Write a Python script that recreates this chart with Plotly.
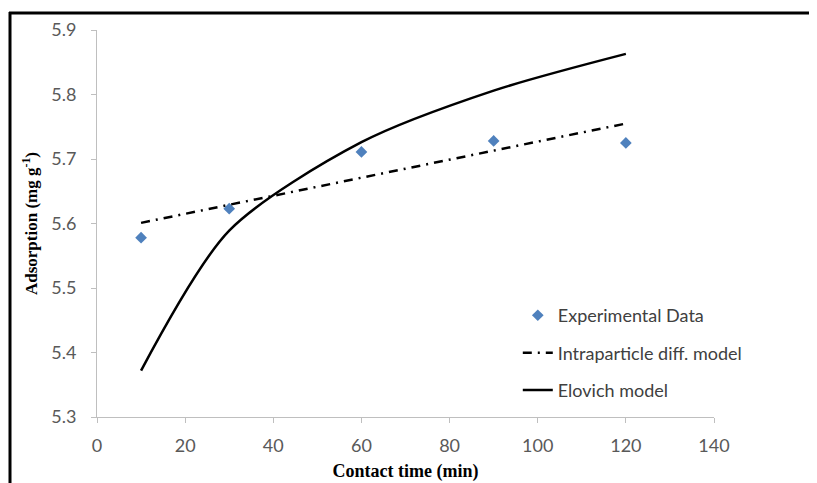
import plotly.graph_objects as go

# Data
time_exp = [10, 30, 60, 90, 120]
adsorption_exp = [5.578, 5.623, 5.711, 5.728, 5.725]

time_ipd = [10, 30, 60, 90, 120]
adsorption_ipd = [5.601, 5.629, 5.671, 5.713, 5.755]

time_elovich = [10, 30, 60, 90, 120]
adsorption_elovich = [5.372, 5.589, 5.726, 5.806, 5.863]

x_ticks = [0, 20, 40, 60, 80, 100, 120, 140]
y_ticks = [5.3, 5.4, 5.5, 5.6, 5.7, 5.8, 5.9]

AXIS_COLOR = "#BFBFBF"
TICK_FONT = dict(family="Lato, 'Open Sans', sans-serif", size=18, color="#595959")
TITLE_FONT_X = dict(family="'Liberation Serif', serif", size=18, color="black", weight="bold")
TITLE_FONT_Y = dict(family="'Liberation Serif', serif", size=17, color="black", weight="bold")

# page is offset 8px by the browser body margin
L, T, PW, PH = 89, 22, 617, 387

fig = go.Figure()

fig.add_trace(go.Scatter(
    x=time_exp, y=adsorption_exp, mode="markers", name="Experimental Data",
    marker=dict(symbol="diamond", size=9, color="#4F81BD"),
    legendgroup="a",
))
fig.add_trace(go.Scatter(
    x=time_ipd, y=adsorption_ipd, mode="lines", name="Intraparticle diff. model",
    line=dict(color="black", width=2.5, dash="9px,6px,2px,6px"),
    legendgroup="b",
))
fig.add_trace(go.Scatter(
    x=time_elovich, y=adsorption_elovich, mode="lines", name="Elovich model",
    line=dict(color="black", width=2.5, shape="spline", smoothing=0.8),
    legendgroup="c",
))

fig.update_layout(
    width=817, height=483,
    margin=dict(l=L, r=817 - L - PW, t=T, b=483 - T - PH, autoexpand=False),
    paper_bgcolor="white", plot_bgcolor="white",
    showlegend=True,
    legend=dict(
        x=0.682, y=0.31, xanchor="left", yanchor="top",
        font=dict(family="Lato, 'Open Sans', sans-serif", size=18, color="#404040"),
        bgcolor="rgba(0,0,0,0)", tracegroupgap=11,
    ),
    xaxis=dict(
        range=[0, 140], tickvals=x_ticks, ticktext=[str(v) for v in x_ticks],
        showgrid=False, zeroline=False, showline=True, linecolor=AXIS_COLOR, linewidth=1,
        ticks="outside", ticklen=5, tickcolor=AXIS_COLOR, tickfont=TICK_FONT,
        ticklabelstandoff=7,
        title=dict(text="Contact time (min)", standoff=9, font=TITLE_FONT_X),
    ),
    yaxis=dict(
        range=[5.3, 5.9], tickvals=y_ticks, ticktext=[f"{v:.1f}" for v in y_ticks],
        showgrid=False, zeroline=False, showline=True, linecolor=AXIS_COLOR, linewidth=1,
        ticks="outside", ticklen=5, tickcolor=AXIS_COLOR, tickfont=TICK_FONT,
        ticklabelstandoff=11,
        title=dict(text="Adsorption (mg g<sup>-1</sup>)", standoff=9, font=TITLE_FONT_Y),
    ),
    shapes=[
        dict(type="line", xref="paper", yref="paper", x0=(1 - L) / PW, x1=(830 - L) / PW,
             y0=(T + PH - 5) / PH, y1=(T + PH - 5) / PH, line=dict(color="black", width=3)),
        dict(type="line", xref="paper", yref="paper", x0=(2 - L) / PW, x1=(2 - L) / PW,
             y0=(T + PH - 4) / PH, y1=(T + PH - 500) / PH, line=dict(color="black", width=3)),
    ],
)

fig.write_html("out.html")
